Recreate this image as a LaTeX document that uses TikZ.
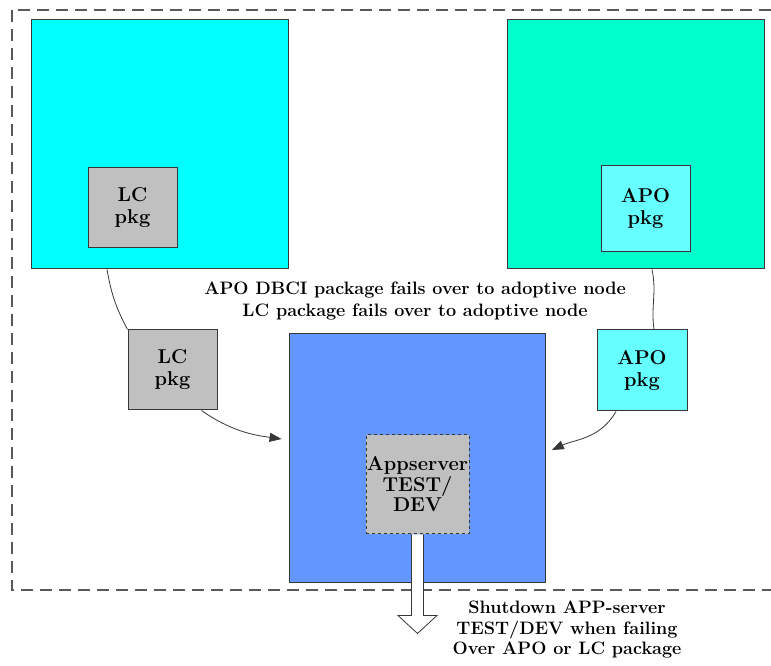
\documentclass[tikz,border=0pt]{standalone}
\usepackage{tikz}
\usepackage{xcolor}
\usetikzlibrary{arrows.meta}
\definecolor{hostcyan}{RGB}{0,255,255}
\definecolor{hostgreen}{RGB}{0,255,204}
\definecolor{pkgcyan}{RGB}{102,255,255}
\definecolor{pkggray}{RGB}{192,192,192}
\definecolor{adoptblue}{RGB}{100,150,255}
\definecolor{edgegray}{RGB}{55,55,55}

\begin{document}
\begin{tikzpicture}[x=1pt, y=1pt,
    hostbox/.style={draw=edgegray, line width=1pt, minimum width=257pt, minimum height=249pt, inner sep=0pt},
    pkgbox/.style={draw=edgegray, line width=1pt, minimum width=89pt, minimum height=80pt, fill=pkggray,
        inner sep=0pt, align=center, font=\fontsize{20}{22}\selectfont\bfseries},
    failover/.style={-{Triangle[length=12pt,width=9pt]}, draw=edgegray, line width=0.8pt, shorten >=7pt}]
    \useasboundingbox (0,0) rectangle (771,666);
    \clip (0,0) rectangle (771,666);

    % Cluster boundary
    \draw[draw=black!65, line width=1.2pt, dash pattern=on 12pt off 7pt] (12,656) rectangle (790,76);

    % Primary nodes
    \node[hostbox, fill=hostcyan] (lchost) at (159.5,521.5) {};
    \node[hostbox, fill=hostgreen] (apohost) at (635.5,521.5) {};
    \node[pkgbox] (lcpkg) at (132.5,458) {LC\\pkg};
    \node[pkgbox, fill=pkgcyan, minimum height=86pt] (apopkg) at (645.5,457.5) {APO\\pkg};

    % Adoptive node
    \node[hostbox, fill=adoptblue, minimum width=256pt] (adopt) at (417,207.5) {};
    \node[pkgbox, dashed, minimum width=103pt, minimum height=99pt,
        font=\fontsize{20}{20.5}\selectfont\bfseries] (appsrv) at (417.5,181.5) {Appserver\\TEST/\\DEV};

    % Moved packages
    \node[pkgbox] (lcmoved) at (172.5,296) {LC\\pkg};
    \node[pkgbox, fill=pkgcyan, minimum width=90pt, minimum height=81pt] (apomoved) at (642,295.5) {APO\\pkg};

    \node[align=center, font=\fontsize{18}{22}\selectfont\bfseries] (failtext) at (415,365)
        {APO DBCI package fails over to adoptive node\\LC package fails over to adoptive node};

    % Fail-over lines
    \draw[draw=edgegray, line width=0.8pt] ([xshift=-52.5pt]lchost.south) to[out=-80, in=118] (lcmoved.north west);
    \draw[draw=edgegray, line width=0.8pt] ([xshift=16.5pt]apohost.south) to[out=-78, in=98] ([xshift=12pt]apomoved.north);
    \draw[failover] ([xshift=74pt]lcmoved.south west) to[out=-35, in=172] ([yshift=18.5pt]adopt.west);
    \draw[failover] ([xshift=-26pt]apomoved.south) to[out=-120, in=25] ([yshift=5.5pt]adopt.east);

    % Shutdown arrow
    \coordinate (shuttip) at ([yshift=-99pt]appsrv.south);
    \draw[fill=white, draw=edgegray, line width=0.8pt] ([xshift=-6pt]appsrv.south) -- ++(0,-81) -- ++(-13.5,0)
        -- (shuttip) -- ++(19.5,18) -- ++(-13.5,0) -- ([xshift=6pt]appsrv.south);
    \node[align=center, font=\fontsize{18}{20.5}\selectfont\bfseries] (shuttext) at (567,36)
        {Shutdown APP-server\\TEST/DEV when failing\\Over APO or LC package};
\end{tikzpicture}
\end{document}
